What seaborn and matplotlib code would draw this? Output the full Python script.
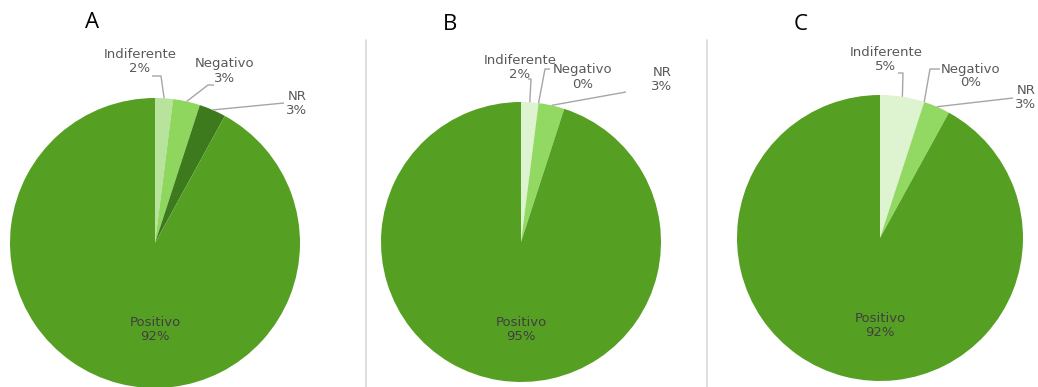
import numpy as np
import matplotlib
matplotlib.use("Agg")
import matplotlib.pyplot as plt
import seaborn as sns

# ---- data ----
categories = ["Indiferente", "Negativo", "NR", "Positivo"]
panel_names = ["A", "B", "C"]
values_a = [2, 3, 3, 92]
values_b = [2, 0, 3, 95]
values_c = [5, 0, 3, 92]

colors_a = ["#b7e39c", "#8fd65e", "#3d7a1e", "#55a023"]
colors_bc = ["#def3d0", "#8fd65e", "#92d964", "#55a023"]

sns.set_theme(style="white")
plt.rcParams["font.family"] = ["DejaVu Sans"]

W, H = 1038, 387
fig = plt.figure(figsize=(W / 100, H / 100), dpi=100)
ax = fig.add_axes([0, 0, 1, 1])
ax.set_xlim(0, W)
ax.set_ylim(0, H)
ax.set_aspect("equal")
ax.axis("off")


def Y(py):
    return H - py


# layout of each panel: pie centre/radius, letter position,
# label centres and leader-line elbows (pixel coordinates, y downwards)
layouts = [
    dict(values=values_a, colors=colors_a, center=(155, 243), r=145,
         letter=(92, 22),
         labels={"Indiferente": (140, 62), "Negativo": (225, 71), "NR": (297, 103)},
         elbows={"Indiferente": [(161, 76), (152, 76)],
                 "Negativo": [(208, 85), (214, 85)],
                 "NR": [(284, 103)]}),
    dict(values=values_b, colors=colors_bc, center=(521, 242), r=140,
         letter=(450, 25),
         labels={"Indiferente": (520, 68), "Negativo": (583, 77), "NR": (662, 79)},
         elbows={"Indiferente": [(531, 79), (528, 79)],
                 "Negativo": [(545, 69), (550, 69)],
                 "NR": [(626, 92)]}),
    dict(values=values_c, colors=colors_bc, center=(880, 238), r=143,
         letter=(801, 25),
         labels={"Indiferente": (886, 60), "Negativo": (971, 76), "NR": (1026, 97)},
         elbows={"Indiferente": [(903, 73), (898, 73)],
                 "Negativo": [(930, 69), (940, 69)],
                 "NR": [(1013, 98)]}),
]

label_color = "#595959"
line_color = "#a6a6a6"

for name, lay in zip(panel_names, layouts):
    vals = lay["values"]
    cx, cy = lay["center"]
    r = lay["r"]
    ax.pie(vals, colors=lay["colors"], startangle=90, counterclock=False,
           center=(cx, Y(cy)), radius=r, frame=True,
           wedgeprops=dict(linewidth=0))

    total = float(sum(vals))
    start = 90.0
    for cat, v in zip(categories, vals):
        sweep = 360.0 * v / total
        mid = np.deg2rad(start - sweep / 2)
        start -= sweep
        if cat == "Positivo":
            ax.text(cx, Y(cy) - 87, f"{cat}\n{v}%", ha="center", va="center",
                    fontsize=9.5, color="#404040", linespacing=1.1)
            continue
        # leader line from the wedge rim to the label
        px = cx + r * np.cos(mid)
        py = Y(cy) + r * np.sin(mid)
        pts = [(px, py)] + [(ex, Y(ey)) for ex, ey in lay["elbows"][cat]]
        xs, ys = zip(*pts)
        ax.plot(xs, ys, color=line_color, lw=1, solid_capstyle="butt")
        lx, ly = lay["labels"][cat]
        ax.text(lx, Y(ly), f"{cat}\n{v}%", ha="center", va="center",
                fontsize=9.5, color=label_color, linespacing=1.1)

    ax.text(lay["letter"][0], Y(lay["letter"][1]), name, ha="center",
            va="center", fontsize=16, color="black", family="Open Sans")

# light separators between the panels
for sx in (366, 707):
    ax.plot([sx, sx], [Y(40), Y(387)], color="#d9d9d9", lw=1.2)

ax.set_xlim(0, W)
ax.set_ylim(0, H)
fig.savefig("out.png", dpi=100)
